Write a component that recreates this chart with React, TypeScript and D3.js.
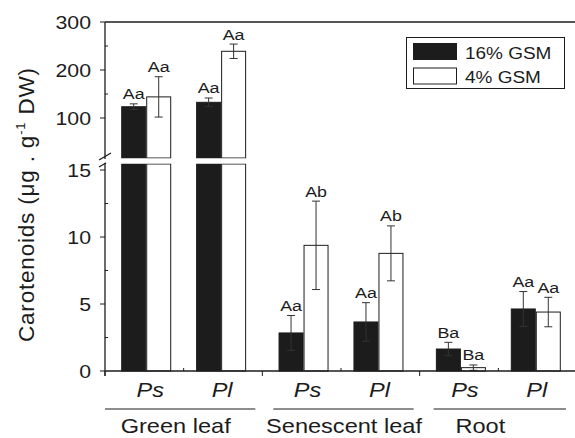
import React from 'react'
import * as d3 from 'd3'

// data
const groups = ['Green leaf', 'Senescent leaf', 'Root']
const species = ['Ps', 'Pl']
const seriesNames = ['16% GSM', '4% GSM']
const gsm16 = [123.5, 132.7, 2.84, 3.66, 1.64, 4.63]
const gsm16Err = [6, 9, 1.3, 1.44, 0.5, 1.3]
const gsm16Letters = ['Aa', 'Aa', 'Aa', 'Aa', 'Ba', 'Aa']
const gsm4 = [144, 239, 9.38, 8.78, 0.25, 4.4]
const gsm4Err = [42, 15, 3.3, 2.05, 0.2, 1.1]
const gsm4Letters = ['Aa', 'Aa', 'Ab', 'Ab', 'Ba', 'Aa']
const lowTicks = [0, 5, 10, 15]
const lowMinor = [2.5, 7.5, 12.5]
const highTicks = [100, 200, 300]
const highMinor = [150, 250]

const W = 575
const H = 438
const left = 105
const bottom = 371
const top = 22
const breakLow = 164 // top of lower segment
const breakHigh = 158 // bottom of upper segment
const SX = 1.15 // text in the reference is a bit wide
const font = 'Liberation Sans, Arial, Helvetica, sans-serif'
const ink = '#1c1c1c'

const yLow = d3.scaleLinear().domain([0, 15.45]).range([bottom, breakLow])
const yHigh = d3.scaleLinear().domain([16.7, 300]).range([breakHigh, top])
const lowMax = yLow.domain()[1]
const yOf = (v: number) => (v <= lowMax ? yLow(v) : yHigh(v))

const xGroup = d3.scaleBand().domain(groups).range([left, 577])
const xSpecies = d3.scalePoint().domain(species).range([0, xGroup.bandwidth()]).padding(0.55)
const barW = 25

// layout tweaks for the group captions (from the picture)
const captionShift = [-8, 3, -18]
const lineInsetL = [0, 11, 14]
const lineInsetR = [7, 6, 11]

type Bar = { x: number; v: number; err: number; letter: string; fill: string }

const T = ({ x, y, size, anchor = 'middle', italic = false, children }: any) => (
	<text
		transform={`translate(${x},${y}) scale(${SX},1)`}
		textAnchor={anchor}
		fontSize={size}
		fontStyle={italic ? 'italic' : 'normal'}
		fontFamily={font}
		fill={ink}
	>
		{children}
	</text>
)

function BarRect({ b }: { b: Bar }) {
	const parts: any[] = []
	if (b.v <= lowMax) {
		parts.push([yLow(b.v), bottom])
	} else {
		parts.push([breakLow, bottom])
		parts.push([yHigh(b.v), breakHigh])
	}
	return (
		<g>
			{parts.map(([y0, y1], i) => (
				<rect
					key={i}
					x={b.x + 0.5}
					y={y0}
					width={barW - 1}
					height={y1 - y0}
					fill={b.fill}
					stroke={ink}
					strokeWidth={1}
				/>
			))}
		</g>
	)
}

function ErrBar({ b }: { b: Bar }) {
	const cx = b.x + barW / 2
	const yt = yOf(b.v + b.err)
	const yb = yOf(Math.max(0, b.v - b.err))
	return (
		<g stroke="#333" strokeWidth={1}>
			<line x1={cx} x2={cx} y1={yt} y2={yb} />
			<line x1={cx - 4} x2={cx + 4} y1={yt} y2={yt} />
			<line x1={cx - 4} x2={cx + 4} y1={yb} y2={yb} />
		</g>
	)
}

export default function App() {
	const bars: Bar[] = []
	groups.forEach((g, gi) => {
		species.forEach((s, si) => {
			const i = gi * species.length + si
			const c = (xGroup(g) as number) + (xSpecies(s) as number)
			bars.push({ x: c - barW, v: gsm16[i], err: gsm16Err[i], letter: gsm16Letters[i], fill: ink })
			bars.push({ x: c, v: gsm4[i], err: gsm4Err[i], letter: gsm4Letters[i], fill: '#fff' })
		})
	})

	return (
		<svg
			width={W}
			height={H}
			style={{ position: 'absolute', left: 0, top: 0, background: '#fff' }}
		>
			{/* bars */}
			{bars.map((b, i) => (
				<BarRect key={'r' + i} b={b} />
			))}
			{bars.map((b, i) => (
				<ErrBar key={'e' + i} b={b} />
			))}
			{bars.map((b, i) => (
				<T key={'l' + i} x={b.x + barW / 2} y={yOf(b.v + b.err) - 4.5} size={15.5}>
					{b.letter}
				</T>
			))}

			{/* frame */}
			<g stroke={ink} strokeWidth={1.3} fill="none">
				<line x1={left} x2={W} y1={top} y2={top} />
				<line x1={left} x2={W} y1={bottom} y2={bottom} />
				<line x1={left} x2={left} y1={top} y2={breakHigh + 1} />
				<line x1={left} x2={left} y1={breakLow - 1} y2={bottom + 5} />
				{/* axis break marks */}
				<line x1={99} x2={111} y1={160} y2={153} />
				<line x1={99} x2={111} y1={167} y2={160} />
			</g>
			<rect x={left + 1} y={breakHigh + 0.5} width={W} height={breakLow - breakHigh - 1} fill="#fff" />

			{/* y ticks */}
			<g stroke={ink} strokeWidth={1}>
				{highTicks.map(t => (
					<line key={'ht' + t} x1={left - 5} x2={left} y1={yHigh(t)} y2={yHigh(t)} />
				))}
				{lowTicks.map(t => (
					<line key={'lt' + t} x1={left - 5} x2={left} y1={yLow(t)} y2={yLow(t)} />
				))}
				{highMinor.map(t => (
					<line key={'hm' + t} x1={left} x2={left + 3} y1={yHigh(t)} y2={yHigh(t)} />
				))}
				{lowMinor.map(t => (
					<line key={'lm' + t} x1={left} x2={left + 3} y1={yLow(t)} y2={yLow(t)} />
				))}
				{groups.map(g => (
					<line key={'xt' + g} x1={xGroup(g)} x2={xGroup(g)} y1={bottom} y2={bottom + 5} />
				))}
				{groups.map(g => {
					const c = (xGroup(g) as number) + xGroup.bandwidth() / 2
					return <line key={'xm' + g} x1={c} x2={c} y1={bottom} y2={bottom - 3} />
				})}
			</g>
			{highTicks.map(t => (
				<T key={'htl' + t} x={91} y={yHigh(t) + 6.7} size={18.5} anchor="end">
					{t}
				</T>
			))}
			{lowTicks.map(t => (
				<T key={'ltl' + t} x={91} y={yLow(t) + 6.7} size={18.5} anchor="end">
					{t}
				</T>
			))}

			{/* x labels */}
			{groups.map((g, gi) => (
				<g key={'g' + g}>
					{species.map(s => (
						<T
							key={s}
							x={(xGroup(g) as number) + (xSpecies(s) as number) + (s === 'Ps' ? 4 : 1)}
							y={397}
							size={20.5}
							italic
						>
							{s}
						</T>
					))}
					<line
						x1={(xGroup(g) as number) + lineInsetL[gi]}
						x2={(xGroup(g) as number) + xGroup.bandwidth() - lineInsetR[gi]}
						y1={409}
						y2={409}
						stroke={ink}
						strokeWidth={1.2}
					/>
					<T x={(xGroup(g) as number) + xGroup.bandwidth() / 2 + captionShift[gi]} y={433} size={20.5}>
						{g}
					</T>
				</g>
			))}

			{/* y title */}
			<text
				transform="translate(34,205) rotate(-90)"
				textAnchor="middle"
				fontSize={22.5}
				fontFamily={font}
				fill={ink}
				textLength={274}
				lengthAdjust="spacing"
			>
				Carotenoids (μg . g
				<tspan dy={-9} fontSize={13}>
					-1
				</tspan>
				<tspan dy={9}> DW)</tspan>
			</text>

			{/* legend */}
			<g>
				<rect x={406.5} y={37.5} width={158} height={51} fill="#fff" stroke={ink} strokeWidth={1} />
				{seriesNames.map((s, i) => (
					<g key={s}>
						<rect
							x={413.5}
							y={43.5 + i * 24.5}
							width={43}
							height={16}
							fill={i === 0 ? ink : '#fff'}
							stroke={ink}
							strokeWidth={1}
						/>
						<T x={465} y={58.5 + i * 24} size={16.5} anchor="start">
							{s}
						</T>
					</g>
				))}
			</g>
		</svg>
	)
}
